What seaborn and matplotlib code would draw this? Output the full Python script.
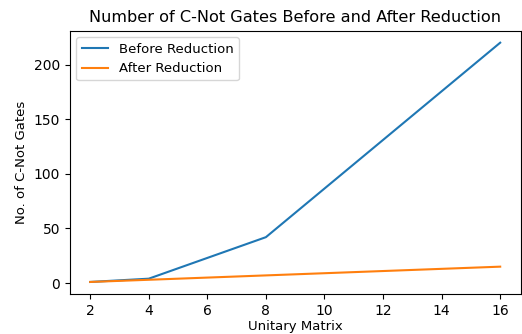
import pandas as pd
import matplotlib
matplotlib.use('Agg')
import matplotlib.pyplot as plt
import seaborn as sns

#Chart data
unitary_size = [2, 4, 8, 16]
before_reduction = [1, 4, 42, 220]
after_reduction = [1, 3, 7, 15]

data = pd.DataFrame({
    'Unitary Matrix': unitary_size * 2,
    'No. of C-Not Gates': before_reduction + after_reduction,
    'Stage': ['Before Reduction'] * 4 + ['After Reduction'] * 4
})

plt.rcParams['font.size'] = 9.5
plt.rcParams['xtick.labelsize'] = 10
plt.rcParams['ytick.labelsize'] = 10

fig, ax = plt.subplots(figsize=(5.22, 3.34), dpi=100)
fig.subplots_adjust(left=0.1335, right=0.9975, top=0.908, bottom=0.12)

sns.lineplot(data=data, x='Unitary Matrix', y='No. of C-Not Gates', hue='Stage',
             palette=['#1f77b4', '#ff7f0e'], linewidth=1.5, ax=ax)

ax.set_title('Number of C-Not Gates Before and After Reduction', fontsize=11.6)
ax.set_xlabel('Unitary Matrix', labelpad=2)
ax.set_ylabel('No. of C-Not Gates')
ax.set_xticks([2, 4, 6, 8, 10, 12, 14, 16])
ax.legend(title=None, loc='upper left')

fig.savefig('out.png', dpi=100)
